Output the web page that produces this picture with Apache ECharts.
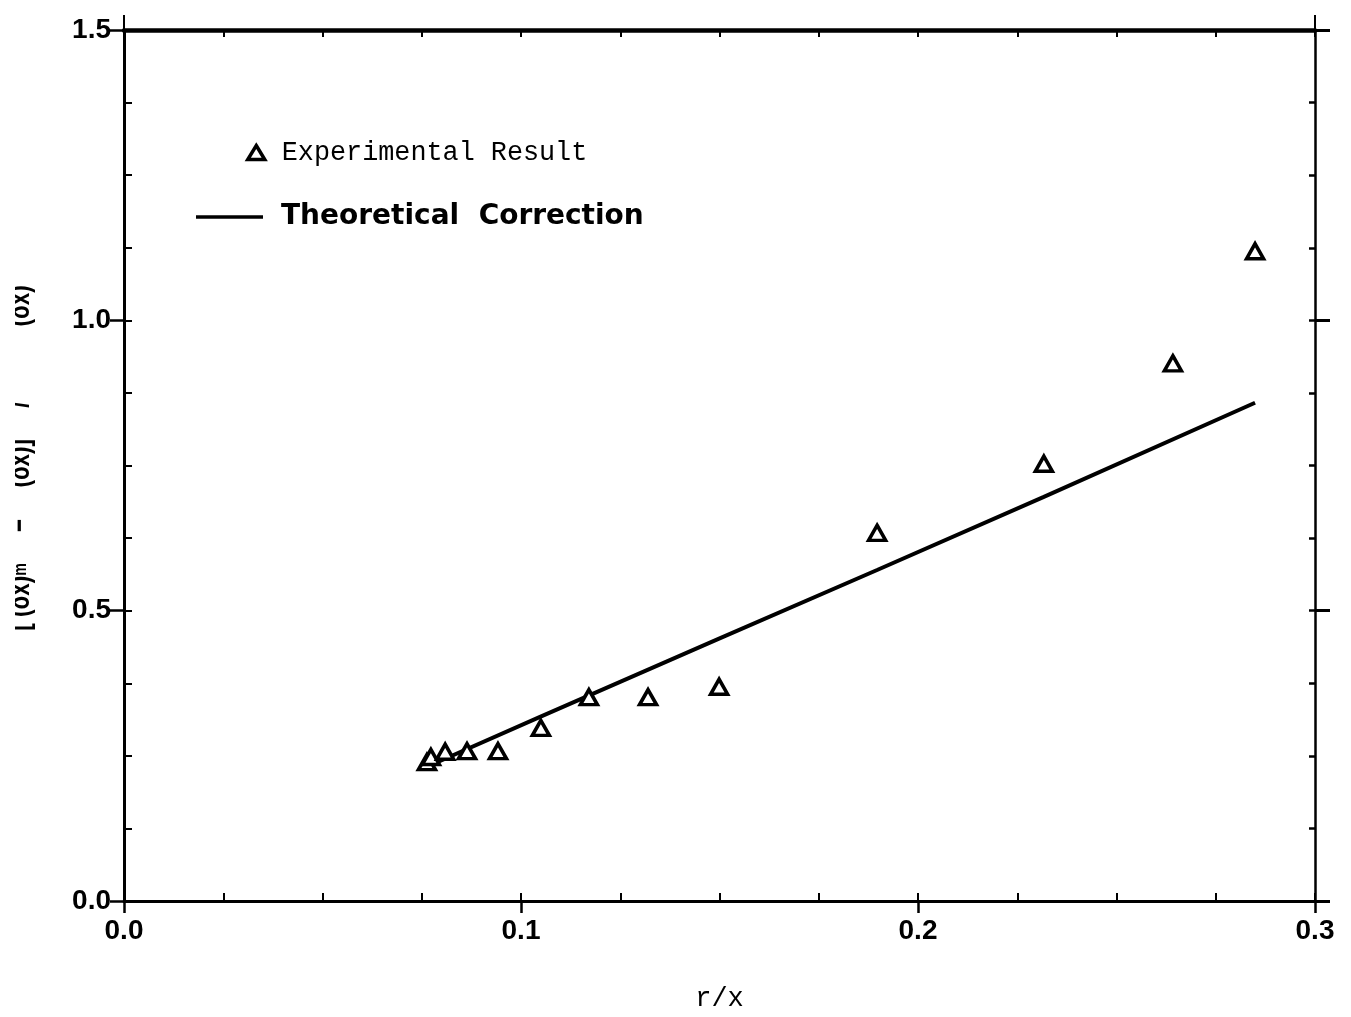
<!DOCTYPE html>
<html>
<head>
<meta charset="utf-8">
<title>Deviation versus r/x</title>
<script src="https://cdn.jsdelivr.net/npm/echarts@6/dist/echarts.min.js"></script>
<style>
  html, body { margin: 0; padding: 0; background: #fff; }
  #chart { width: 1351px; height: 1017px; }
</style>
</head>
<body>
<div id="chart"></div>
<script>
// Measured points (r/x, normalised deviation)
const rxExp = [0.0763, 0.0773, 0.0809, 0.0864, 0.0942, 0.1050, 0.1171, 0.1320, 0.1499, 0.1897, 0.2317, 0.2642, 0.2849];
const devExp = [0.239, 0.248, 0.257, 0.258, 0.258, 0.298, 0.351, 0.351, 0.369, 0.634, 0.753, 0.926, 1.119];

// Theoretical correction curve
const rxTheory = [0.0756, 0.1048, 0.1496, 0.1897, 0.2317, 0.2849];
const devTheory = [0.229, 0.317, 0.451, 0.570, 0.696, 0.858];

// Tick labels
const xTickLabels = ['0.0', '0.1', '0.2', '0.3'];
const yTickLabels = ['0.0', '0.5', '1.0', '1.5'];

const X_MIN = 0, X_MAX = 0.3, Y_MIN = 0, Y_MAX = 1.5;
const tickFont = { fontFamily: 'Liberation Sans', fontWeight: 'bold', fontSize: 28, color: '#000' };

const pair = (xs, ys) => xs.map((x, i) => [x, ys[i]]);

function xAxisDef(opts) {
  return Object.assign({
    type: 'value', min: X_MIN, max: X_MAX, gridIndex: 0,
    splitLine: { show: false },
    axisLine: { show: false, onZero: false },
    axisLabel: { show: false },
    axisTick: { show: false }
  }, opts);
}
function yAxisDef(opts) {
  return Object.assign({
    type: 'value', min: Y_MIN, max: Y_MAX, gridIndex: 0,
    splitLine: { show: false },
    axisLine: { show: false, onZero: false },
    axisLabel: { show: false },
    axisTick: { show: false }
  }, opts);
}

const chart = echarts.init(document.getElementById('chart'), null, { renderer: 'canvas' });

chart.setOption({
  backgroundColor: '#fff',
  animation: false,
  grid: { left: 124, top: 30, right: 36, bottom: 116, containLabel: false },
  xAxis: [
    // bottom: line, labels and outward major ticks
    xAxisDef({
      position: 'bottom', interval: 0.1,
      axisLine: { show: true, onZero: false, lineStyle: { color: '#000', width: 3 } },
      axisTick: { show: true, inside: false, length: 12, lineStyle: { color: '#000', width: 2.5 } },
      axisLabel: {
        show: true, margin: 16,
        formatter: v => xTickLabels[Math.round(v / 0.1)] ?? '',
        ...tickFont
      },
      name: 'r/x', nameLocation: 'middle', nameGap: 84,
      nameTextStyle: { fontFamily: 'Liberation Mono', fontSize: 27, color: '#000' }
    }),
    // bottom: inward minor ticks
    xAxisDef({
      position: 'bottom', interval: 0.025,
      axisTick: { show: true, inside: true, length: 8, lineStyle: { color: '#000', width: 2 } }
    }),
    // top frame line with inward ticks
    xAxisDef({
      position: 'top', interval: 0.025,
      axisLine: { show: true, onZero: false, lineStyle: { color: '#000', width: 4.5 } },
      axisTick: { show: true, inside: true, length: 7, lineStyle: { color: '#000', width: 2 } }
    }),
    // top: corner extensions
    xAxisDef({
      position: 'top', interval: 0.3,
      axisTick: { show: true, inside: false, length: 15, lineStyle: { color: '#000', width: 2 } }
    })
  ],
  yAxis: [
    // left: line, labels and outward major ticks
    yAxisDef({
      position: 'left', interval: 0.5,
      axisLine: { show: true, onZero: false, lineStyle: { color: '#000', width: 3 } },
      axisTick: { show: true, inside: false, length: 14, lineStyle: { color: '#000', width: 2.5 } },
      axisLabel: {
        show: true, margin: 13,
        formatter: v => yTickLabels[Math.round(v / 0.5)] ?? '',
        ...tickFont
      }
    }),
    // left: inward minor ticks
    yAxisDef({
      position: 'left', interval: 0.125,
      axisTick: { show: true, inside: true, length: 8, lineStyle: { color: '#000', width: 2 } }
    }),
    // right frame line with inward ticks
    yAxisDef({
      position: 'right', interval: 0.125,
      axisLine: { show: true, onZero: false, lineStyle: { color: '#000', width: 2.5 } },
      axisTick: { show: true, inside: true, length: 6, lineStyle: { color: '#000', width: 2.5 } }
    }),
    // right: outward major ticks
    yAxisDef({
      position: 'right', interval: 0.5,
      axisTick: { show: true, inside: false, length: 15, lineStyle: { color: '#000', width: 3 } }
    })
  ],
  legend: [
    {
      data: ['Experimental Result'],
      left: 241, top: 134,
      itemWidth: 17, itemHeight: 14, itemGap: 0,
      icon: 'triangle',
      itemStyle: { color: '#fff', borderColor: '#000', borderWidth: 3.5 },
      textStyle: { fontFamily: 'Liberation Mono', fontSize: 26.8, color: '#000', padding: [0, 0, 0, 12] },
      selectedMode: false
    },
    {
      data: ['Theoretical Correction'],
      left: 191, top: 198,
      itemWidth: 67, itemHeight: 3.5, itemGap: 0,
      icon: 'rect',
      itemStyle: { color: '#000', borderWidth: 0 },
      textStyle: { fontFamily: 'DejaVu Sans', fontWeight: 'bold', fontSize: 28, color: '#000', padding: [0, 0, 0, 13] },
      formatter: () => 'Theoretical  Correction',
      selectedMode: false
    }
  ],
  graphic: [
    {
      // rotated y-axis title, reading bottom to top
      type: 'text', x: 21, y: 458, rotation: Math.PI / 2, scaleX: 0.75, scaleY: 1, z: 10,
      style: {
        text: '{n|[ (δx)}{s|m}{n|     −     (δx)]     /            (δx)}',
        textAlign: 'center', textVerticalAlign: 'middle',
        rich: {
          n: { fontFamily: 'Liberation Sans', fontWeight: 'bold', fontSize: 30, fill: '#000' },
          s: { fontFamily: 'Liberation Sans', fontWeight: 'bold', fontSize: 19, fill: '#000' }
        }
      }
    },
    {
      type: 'rect', z: 11,
      shape: { x: 0, y: 0, width: 15, height: 1017 },
      style: { fill: '#fff' }
    }
  ],
  series: [
    {
      name: 'Theoretical Correction',
      type: 'line',
      xAxisIndex: 0, yAxisIndex: 0,
      data: pair(rxTheory, devTheory),
      showSymbol: false, symbol: 'none',
      smooth: false,
      lineStyle: { color: '#000', width: 4 },
      itemStyle: { color: '#000' },
      z: 2
    },
    {
      name: 'Experimental Result',
      type: 'scatter',
      xAxisIndex: 0, yAxisIndex: 0,
      data: pair(rxExp, devExp),
      symbol: 'triangle',
      symbolSize: [17, 15],
      itemStyle: { color: '#fff', borderColor: '#000', borderWidth: 3.5, opacity: 1 },
      z: 3
    }
  ]
});
</script>
</body>
</html>
